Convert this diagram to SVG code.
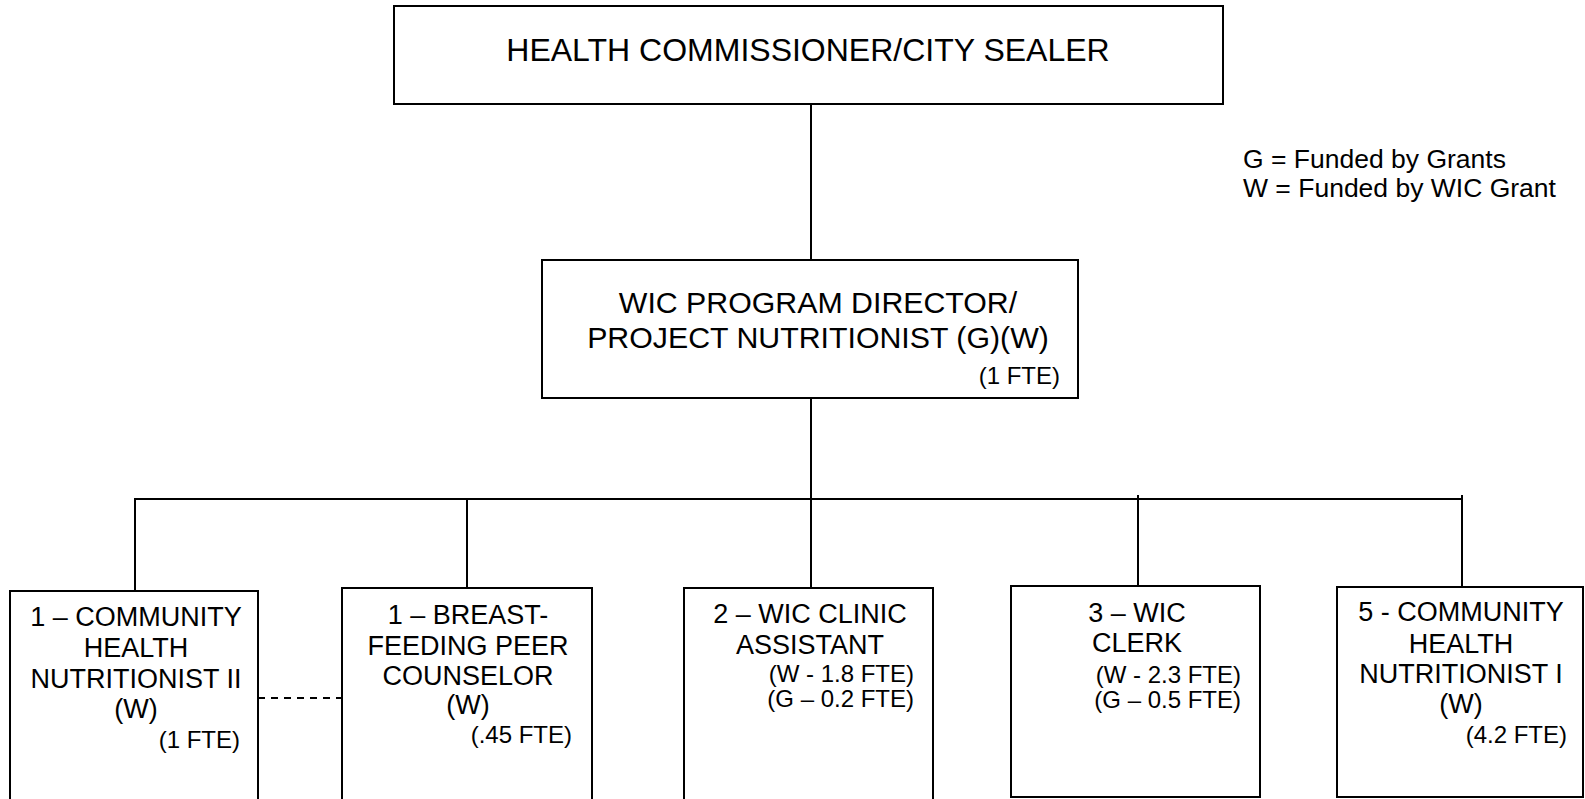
<svg xmlns="http://www.w3.org/2000/svg" width="1585" height="799" viewBox="0 0 1585 799">
<style>
  .box { fill: #ffffff; stroke: #000000; stroke-width: 2; }
  .ln { stroke: #000000; stroke-width: 2; fill: none; }
  .dash { stroke: #000000; stroke-width: 2; fill: none; stroke-dasharray: 7 6; }
  text { font-family: "Liberation Sans", Arial, sans-serif; fill: #000000; }
  .h { font-size: 32px; text-anchor: middle; }
  .d { font-size: 30.3px; text-anchor: middle; }
  .t { font-size: 27px; text-anchor: middle; }
  .f { font-size: 24px; text-anchor: end; }
  .lg { font-size: 26.5px; }
</style>
<rect width="1585" height="799" fill="#ffffff"/>
<g id="connectors">
  <line class="ln" x1="811" y1="104" x2="811" y2="260"/>
  <line class="ln" x1="811" y1="398" x2="811" y2="499"/>
  <line class="ln" x1="134" y1="499" x2="1463" y2="499"/>
  <line class="ln" x1="135" y1="498" x2="135" y2="591"/>
  <line class="ln" x1="467" y1="498" x2="467" y2="588"/>
  <line class="ln" x1="811" y1="498" x2="811" y2="588"/>
  <line class="ln" x1="1138" y1="495" x2="1138" y2="586"/>
  <line class="ln" x1="1462" y1="495" x2="1462" y2="587"/>
  <line class="dash" x1="258" y1="698" x2="342" y2="698"/>
</g>
<g id="health-commissioner">
  <rect class="box" x="394" y="6" width="829" height="98"/>
  <text class="h" x="808" y="61">HEALTH COMMISSIONER/CITY SEALER</text>
</g>
<g id="legend">
  <text class="lg" x="1243" y="168">G = Funded by Grants</text>
  <text class="lg" x="1243" y="197">W = Funded by WIC Grant</text>
</g>
<g id="wic-director">
  <rect class="box" x="542" y="260" width="536" height="138"/>
  <text class="d" x="818" y="313">WIC PROGRAM DIRECTOR/</text>
  <text class="d" x="818" y="348">PROJECT NUTRITIONIST (G)(W)</text>
  <text class="f" x="1060" y="384">(1 FTE)</text>
</g>
<g id="community-nutritionist-2">
  <rect class="box" x="10" y="591" width="248" height="220"/>
  <text class="t" x="136" y="626">1 – COMMUNITY</text>
  <text class="t" x="136" y="657">HEALTH</text>
  <text class="t" x="136" y="688">NUTRITIONIST II</text>
  <text class="t" x="136" y="718">(W)</text>
  <text class="f" x="240" y="748">(1 FTE)</text>
</g>
<g id="breastfeeding-counselor">
  <rect class="box" x="342" y="588" width="250" height="223"/>
  <text class="t" x="468" y="624">1 – BREAST-</text>
  <text class="t" x="468" y="655">FEEDING PEER</text>
  <text class="t" x="468" y="685">COUNSELOR</text>
  <text class="t" x="468" y="714">(W)</text>
  <text class="f" x="572" y="743">(.45 FTE)</text>
</g>
<g id="wic-clinic-assistant">
  <rect class="box" x="684" y="588" width="249" height="223"/>
  <text class="t" x="810" y="623">2 – WIC CLINIC</text>
  <text class="t" x="810" y="654">ASSISTANT</text>
  <text class="f" x="914" y="682">(W - 1.8 FTE)</text>
  <text class="f" x="914" y="707">(G – 0.2 FTE)</text>
</g>
<g id="wic-clerk">
  <rect class="box" x="1011" y="586" width="249" height="211"/>
  <text class="t" x="1137" y="622">3 – WIC</text>
  <text class="t" x="1137" y="652">CLERK</text>
  <text class="f" x="1241" y="683">(W - 2.3 FTE)</text>
  <text class="f" x="1241" y="708">(G – 0.5 FTE)</text>
</g>
<g id="community-nutritionist-1">
  <rect class="box" x="1337" y="587" width="246" height="210"/>
  <text class="t" x="1461" y="621">5 - COMMUNITY</text>
  <text class="t" x="1461" y="653">HEALTH</text>
  <text class="t" x="1461" y="683">NUTRITIONIST I</text>
  <text class="t" x="1461" y="713">(W)</text>
  <text class="f" x="1567" y="743">(4.2 FTE)</text>
</g>
</svg>
